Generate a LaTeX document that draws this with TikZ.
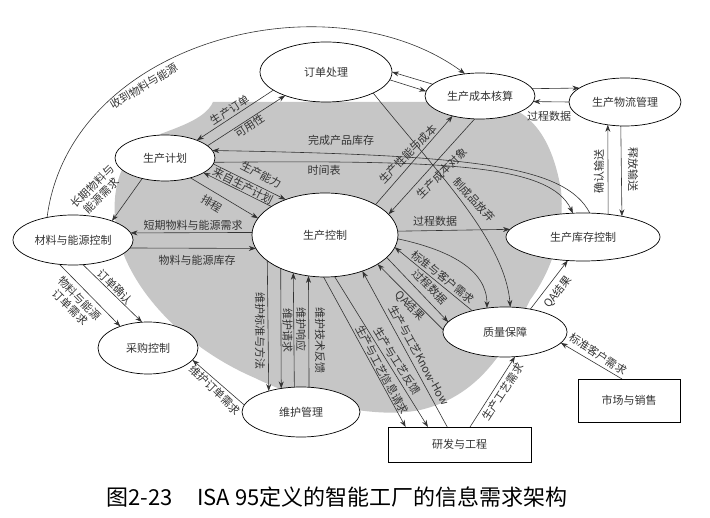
\documentclass[tikz,border=0pt]{standalone}
\usepackage{fontspec}
\setmainfont{Noto Sans CJK SC}
\usetikzlibrary{shapes.geometric,arrows.meta}
\pgfdeclarelayer{back}
\pgfdeclarelayer{mid}
\pgfsetlayers{back,mid,main}
\newcommand\lblfont{\fontsize{11}{13}\selectfont}
\newcommand\capfont{\fontsize{22}{26}\selectfont}
\definecolor{ink}{HTML}{333333}
\definecolor{blobgray}{HTML}{C6C6C6}
\begin{document}
\begin{tikzpicture}[x=1pt,y=-1pt,
 ell/.style={ellipse,draw=black,line width=0.7pt,fill=white,inner sep=0pt,outer sep=0pt,font=\lblfont,text=ink},
 box/.style={rectangle,draw=black,line width=0.7pt,fill=white,inner sep=0pt,outer sep=0pt,font=\lblfont,text=ink},
 con/.style={draw=ink,line width=0.6pt,-{Stealth[length=7pt,width=5pt]}},
 lab/.style={font=\lblfont,text=ink,inner sep=0pt},
]
\useasboundingbox (0,0) rectangle (710,518);

% nodes
\node[ell,minimum width=132pt,minimum height=60pt] (n1) at (326,72) {订单处理};
\node[ell,minimum width=110pt,minimum height=46pt] (n2) at (480,96) {生产成本核算};
\node[ell,minimum width=112pt,minimum height=48pt] (n3) at (625,102) {生产物流管理};
\node[ell,minimum width=100pt,minimum height=46pt] (n4) at (165,158) {生产计划};
\node[ell,minimum width=120pt,minimum height=50pt] (n5) at (73,240) {材料与能源控制};
\node[ell,minimum width=146pt,minimum height=84pt] (n6) at (325,235) {生产控制};
\node[ell,minimum width=154pt,minimum height=48pt] (n7) at (583,237) {生产库存控制};
\node[ell,minimum width=124pt,minimum height=50pt] (n8) at (505,332) {质量保障};
\node[ell,minimum width=100pt,minimum height=52pt] (n9) at (148,348) {采购控制};
\node[ell,minimum width=118pt,minimum height=50pt] (n10) at (301,412) {维护管理};
\node[box,minimum width=143pt,minimum height=35pt] (r1) at (459.5,444.5) {研发与工程};
\node[box,minimum width=102pt,minimum height=43pt] (r2) at (629,400.5) {市场与销售};

% gray area
\begin{pgfonlayer}{back}
\fill[blobgray] (213,102) -- (480,102) .. controls (520,102) and (550,125) .. (561,190)
 .. controls (566,240) and (545,280) .. (530,300)
 .. controls (510,340) and (485,395) .. (420,410)
 .. controls (370,420) and (300,400) .. (255,378)
 .. controls (190,350) and (140,300) .. (122,250)
 .. controls (108,210) and (112,160) .. (150,138)
 .. controls (175,128) and (205,120) .. (213,102) -- cycle;
\end{pgfonlayer}

% connectors
\begin{pgfonlayer}{mid}
\draw[con] (n5.139) .. controls (70,40) and (330,-25) .. (n2.124);
\draw[con] (n1.199) -- (n4.29);
\draw[con] (n4.16) -- (n1.210);
\draw[con] (n7.74) .. controls (565,165) and (470,155) .. (n4.9);
\draw[con] (n4.-5) .. controls (450,160) and (550,165) .. (n7.113);
\draw[con] (n4.-7) -- (n6.138);
\draw[con] (n6.152) -- (n4.-21.5);
\draw[con] (n4.-38.7) -- (n6.166);
\draw[con] (n4.222) -- (n5.26);
\draw[con] (n6.178) -- (n5.7);
\draw[con] (n5.-8) -- (n6.191);
\draw[con] (n5.241.6) -- (n9.142.5);
\draw[con] (n5.292) -- (n9.103);
\draw[con] (n10.173) -- (n9.-15);
\draw[con] (n6.204.7) -- (n10.147.9);
\draw[con] (n6.217.3) -- (n10.130.4);
\draw[con] (n10.105.8) -- (n6.230.8);
\draw[con] (n10.72.1) -- (n6.248.7);
\draw[con] (n6.3.9) -- (n7.174.6);
\draw[con] (n2.8.8) -- (n3.163);
\draw[con] (n3.180) -- (n2.-6.6);
\draw[con] (n7.42.2) -- (n3.233.4);
\draw[con] (n3.260.5) -- (n7.28.8);
\draw[con] (n2.166.9) -- (n1.0);
\draw[con] (n1.-7.2) -- (n2.175.8);
\draw[con] (n6.31.5) -- (n2.216.5);
\draw[con] (n2.257.7) -- (n6.18.6);
\draw[con] (n1.-24.1) .. controls (435,170) and (505,240) .. (n8.78.6);
\draw[con] (n6.-3.9) .. controls (450,250) and (487,270) .. (n8.127);
\draw[con] (n8.147.5) -- (n6.-10);
\draw[con] (n6.-20.7) -- (n8.170.2);
\draw[con] (n8.178) -- (n6.-29);
\draw[con] (r1.125.5) -- (n6.-44.4);
\draw[con] (n6.268) -- (r1.162.8);
\draw[con] (n6.283.5) -- (r1.151.7);
\draw[con] (r1.59) -- (n8.292);
\draw[con] (r2.108) -- (n8.-11.2);
\draw[con] (n8.42.6) -- (n7.237.5);
\end{pgfonlayer}

% labels
\node[lab,rotate=31] (t1) at (144,86) {收到物料与能源};
\node[lab,rotate=33] (t2) at (230,110) {生产订单};
\node[lab,rotate=33] (t3) at (250,126) {可用性};
\node[lab] (t4) at (341,140) {完成产品库存};
\node[lab] (t5) at (324,170) {时间表};
\node[lab,rotate=-27] (t6) at (261,175) {生产能力};
\node[lab,rotate=-27] (t7) at (243,186) {来自生产计划};
\node[lab,rotate=-31] (t8) at (212,204) {排程};
\node[lab,rotate=45,align=center] (t9) at (97,191) {长期物料与\\能源需求};
\node[lab] (t10) at (193,225) {短期物料与能源需求};
\node[lab] (t11) at (197,260) {物料与能源库存};
\node[lab,rotate=-45,align=center] (t12) at (75,303) {物料与能源\\订单需求};
\node[lab,rotate=-45] (t13) at (115,287) {订单确认};
\node[lab,rotate=-44] (t14) at (215,390) {维护订单需求};
\node[lab,rotate=-90] (t15) at (260,331) {维护标准与方法};
\node[lab,rotate=-90] (t16) at (287.5,331) {维护请求};
\node[lab,rotate=-90] (t17) at (301,330) {维护响应};
\node[lab,rotate=-90] (t18) at (320,341) {维护技术反馈};
\node[lab] (t19) at (435,221) {过程数据};
\node[lab,rotate=46] (t20) at (408,154) {生产性能与成本};
\node[lab,rotate=45] (t21) at (442,173) {生产成本对象};
\node[lab,rotate=-47] (t22) at (474,200) {制成品放弃};
\node[lab] (t23) at (549,116) {过程数据};
\node[lab,rotate=90] (t24) at (599,172) {确认输送};
\node[lab,rotate=-90] (t25) at (633,170) {释放输送};
\node[lab,rotate=-39] (t26) at (443,277) {标准与客户需求};
\node[lab,rotate=-46] (t27) at (430,287) {过程数据};
\node[lab,rotate=-45] (t28) at (410,306) {QA结果};
\node[lab,rotate=-61] (t29) at (419,355) {生产与工艺Know-How};
\node[lab,rotate=-58] (t30) at (397,361) {生产与工艺反馈};
\node[lab,rotate=-62] (t31) at (382,370) {生产与工艺信息请求};
\node[lab,rotate=57] (t32) at (503,392) {生产工艺需求};
\node[lab,rotate=-33] (t33) at (598,354) {标准客户需求};
\node[lab,rotate=52] (t34) at (558,292) {QA结果};

% caption
\node[font=\capfont,anchor=base west,inner sep=0pt] (c1) at (106,506) {图2-23};
\node[font=\capfont,anchor=base west,inner sep=0pt] (c2) at (197,506) {ISA 95定义的智能工厂的信息需求架构};
\end{tikzpicture}
\end{document}
